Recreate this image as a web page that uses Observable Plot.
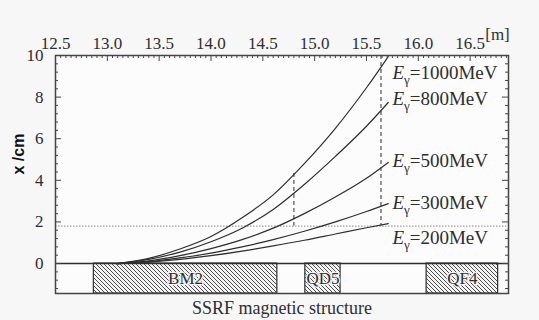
<!DOCTYPE html>
<html>
<head>
<meta charset="utf-8">
<script src="https://cdn.jsdelivr.net/npm/d3@7"></script>
<script src="https://cdn.jsdelivr.net/npm/@observablehq/plot@0.6"></script>
<style>
  html, body { margin: 0; padding: 0; background: #f7f7f7; }
  #chart svg { display: block; }
  #chart svg text { font-family: "Liberation Serif", "DejaVu Serif", serif; }
  #chart svg .ylab text { font-family: "Liberation Sans", Arial, sans-serif; font-weight: bold; }
</style>
</head>
<body>
<div id="chart"></div>
<script>
// ---- data ----
const positions = [13.1, 13.4, 13.7, 14.0, 14.3, 14.6, 14.9, 15.2, 15.5, 15.71];
const e1000 = [0, 0.25, 0.7, 1.3, 2.2, 3.3, 4.8, 6.5, 8.45, 9.95];
const e800  = [0, 0.2, 0.55, 1.05, 1.7, 2.6, 3.8, 5.15, 6.6, 7.74];
const e500  = [0, 0.13, 0.38, 0.72, 1.15, 1.7, 2.4, 3.2, 4.1, 4.86];
const e300  = [0, 0.09, 0.27, 0.5, 0.8, 1.15, 1.55, 2.0, 2.5, 2.88];
const e200  = [0, 0.07, 0.2, 0.38, 0.6, 0.85, 1.12, 1.42, 1.72, 1.92];
const energies = ["1000", "800", "500", "300", "200"];
const labelY = [9.18, 7.93, 4.95, 2.93, 1.25];
const labelX = 15.75;

const magnets = ["BM2", "QD5", "QF4"];
const magnetStart = [12.87, 14.91, 16.08];
const magnetEnd = [14.64, 15.25, 16.77];

const topTicks = [12.5, 13.0, 13.5, 14.0, 14.5, 15.0, 15.5, 16.0, 16.5];
const leftTicks = [0, 2, 4, 6, 8, 10];

const markerX = [14.80, 15.64];
const markerTop = [4.33, 10];
const markerBottom = [1.8, 1.8];
const thresholdY = 1.8;

// ---- layout ----
const W = 539, H = 320;
const mL = 55, mR = 31, mT = 55, mB = 27;
const xDomain = [12.5, 16.87];
const yDomain = [-1.44, 10];
const kx = (xDomain[1] - xDomain[0]) / (W - mL - mR);
const ky = (yDomain[1] - yDomain[0]) / (H - mT - mB);

const seriesVals = [e1000, e800, e500, e300, e200];
const curves = [];
energies.forEach((e, i) => positions.forEach((p, j) => curves.push({energy: e, s: p, x: seriesVals[i][j]})));
const labels = energies.map((e, i) => ({energy: e, y: labelY[i]}));
const blocks = magnets.map((m, i) => ({name: m, x1: magnetStart[i], x2: magnetEnd[i]}));
const markers = markerX.map((x, i) => ({x, y1: markerTop[i], y2: markerBottom[i]}));

const topMinor = d3.range(0, 88).map(i => +(12.5 + i * 0.05).toFixed(3));
const isMajorX = v => Math.abs(v * 2 - Math.round(v * 2)) < 1e-6;
const sideTicks = d3.range(0, 29).map(i => +(-1.2 + i * 0.4).toFixed(3));
const isMajorY = v => Math.abs(v / 2 - Math.round(v / 2)) < 1e-6;

const ink = "#2e2e2e";
const serif = "Liberation Serif";

const plot = Plot.plot({
  width: W, height: H,
  marginLeft: mL, marginRight: mR, marginTop: mT, marginBottom: mB,
  x: {domain: xDomain, axis: null},
  y: {domain: yDomain, axis: null},
  style: {fontSize: "17px", background: "#f7f7f7", color: ink},
  marks: [
    Plot.rect([0], {x1: xDomain[0], x2: xDomain[1], y1: yDomain[0], y2: yDomain[1], fill: "#fcfcfc"}),
    // magnet blocks
    Plot.rect(blocks, {x1: "x1", x2: "x2", y1: yDomain[0], y2: 0, fill: "url(#hatch)", stroke: ink, strokeWidth: 1.2}),
    Plot.text(blocks, {x: d => (d.x1 + d.x2) / 2, y: yDomain[0] / 2, text: "name", fill: ink, stroke: "#f4f4f4", strokeWidth: 2.5, fontSize: 17, fontFamily: serif}),
    // reference lines
    Plot.ruleY([thresholdY], {stroke: "#8a8a8a", strokeWidth: 1, strokeDasharray: "1.5,1.5"}),
    Plot.ruleY([0], {stroke: ink, strokeWidth: 1.4}),
    Plot.ruleX(markers, {x: "x", y1: "y1", y2: "y2", stroke: ink, strokeWidth: 1, strokeDasharray: "4,3"}),
    // curves
    Plot.line(curves, {x: "s", y: "x", z: "energy", curve: "monotone-x", stroke: ink, strokeWidth: 1.2, clip: true}),
    // curve labels
    Plot.text(labels, {x: labelX, y: "y", text: d => "E|=" + d.energy + "MeV", textAnchor: "start", fill: ink, fontSize: 19, fontFamily: serif, className: "elabel"}),
    // frame and ticks
    Plot.frame({stroke: "#444", strokeWidth: 1.5}),
    Plot.ruleX(topMinor, {x: d => d, y1: yDomain[1], y2: d => yDomain[1] - (isMajorX(d) ? 6 : 3) * ky, stroke: "#444", strokeWidth: 1}),
    Plot.ruleY(sideTicks, {y: d => d, x1: xDomain[0], x2: d => xDomain[0] + (isMajorY(d) ? 6 : 3) * kx, stroke: "#444", strokeWidth: 1}),
    Plot.ruleY(sideTicks, {y: d => d, x1: xDomain[1], x2: d => xDomain[1] - (isMajorY(d) ? 6 : 3) * kx, stroke: "#444", strokeWidth: 1}),
    // tick labels
    Plot.text(topTicks, {x: d => d, frameAnchor: "top", dy: -19, text: d => d.toFixed(1), fill: ink, fontSize: 17, fontFamily: serif}),
    Plot.text(leftTicks, {y: d => d, frameAnchor: "left", dx: -12, textAnchor: "end", text: d => String(d), fill: ink, fontSize: 17, fontFamily: serif}),
    Plot.text(["[m]"], {frameAnchor: "top-right", dx: -11, dy: -28, textAnchor: "middle", fill: ink, fontSize: 17, fontFamily: serif}),
    // axis titles
    Plot.text(["x /cm"], {frameAnchor: "left", dx: -37, rotate: -90, fill: "#111", fontSize: 16, fontWeight: "bold", fontFamily: "Liberation Sans", className: "ylab"}),
    Plot.text(["SSRF magnetic structure"], {frameAnchor: "bottom", dy: 20, fill: ink, fontSize: 18, fontFamily: serif})
  ]
});

// hatch pattern
const svg = d3.select(plot);
const defs = svg.insert("defs", ":first-child");
const pat = defs.append("pattern").attr("id", "hatch").attr("patternUnits", "userSpaceOnUse").attr("width", 4).attr("height", 4);
pat.append("rect").attr("width", 4).attr("height", 4).attr("fill", "#f4f4f4");
pat.append("path").attr("d", "M0,0 L4,4 M-1,3 L1,5 M3,-1 L5,1").attr("stroke", "#3a3a3a").attr("stroke-width", 0.9);

// rich text for E_gamma labels
svg.selectAll(".elabel text").each(function() {
  const t = this.textContent.split("|");
  const el = d3.select(this);
  el.text(null);
  el.append("tspan").attr("font-style", "italic").text(t[0]);
  el.append("tspan").attr("dy", 5).attr("font-size", 13).text("γ");
  el.append("tspan").attr("dy", -5).text(t[1]);
});

document.getElementById("chart").appendChild(plot);
</script>
</body>
</html>
